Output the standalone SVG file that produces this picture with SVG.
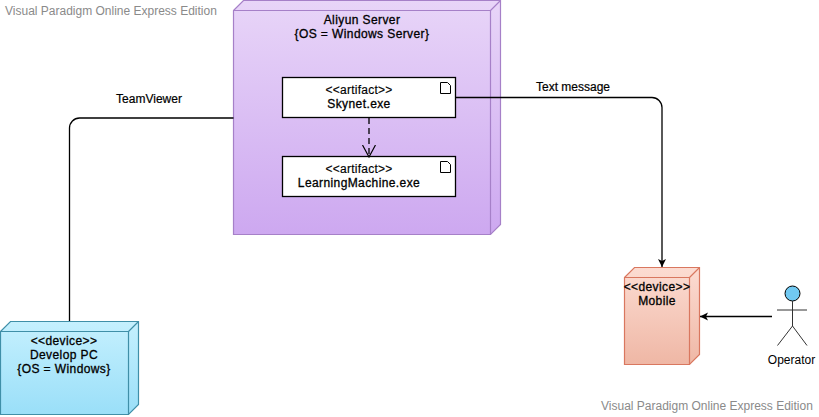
<svg xmlns="http://www.w3.org/2000/svg" width="819" height="417" viewBox="0 0 819 417">
<style>
text{font-family:"Liberation Sans",Arial,sans-serif;font-size:12px;fill:#000;text-anchor:middle}
.wm{fill:#8a8a8a;text-anchor:start;stroke:none}
.b{stroke:#000;stroke-width:.3;letter-spacing:.4px}
.a{stroke:#000;stroke-width:.15;letter-spacing:.25px}
.l{stroke:#000;stroke-width:.2}
.conn{fill:none;stroke:#000;stroke-width:1.3}
.art{fill:#fff;stroke:#000;stroke-width:1.3}
.ic{fill:#fff;stroke:#000;stroke-width:1}
.stick{fill:none;stroke:#333;stroke-width:1}
</style>
<defs>
<linearGradient id="gs" x1="0" y1="0" x2="0" y2="1"><stop offset="0" stop-color="#e8d5f8"/><stop offset="1" stop-color="#cda8f0"/></linearGradient>
<linearGradient id="gm" x1="0" y1="0" x2="0" y2="1"><stop offset="0" stop-color="#fcdcd2"/><stop offset="1" stop-color="#efb7a5"/></linearGradient>
<linearGradient id="gd" x1="0" y1="0" x2="0" y2="1"><stop offset="0" stop-color="#c5f0fe"/><stop offset="1" stop-color="#9adff8"/></linearGradient>
<marker id="fa" markerWidth="10" markerHeight="10" refX="8" refY="4" orient="auto" markerUnits="userSpaceOnUse"><path d="M0 0L8 4L0 8L2 4Z" fill="#000"/></marker>
<marker id="oa" markerWidth="14" markerHeight="16" refX="12" refY="7" orient="auto" markerUnits="userSpaceOnUse"><path d="M0 0.5L12 7L0 13.5" fill="none" stroke="#000" stroke-width="1.2"/></marker>
</defs>
<text class="wm" x="5" y="15">Visual Paradigm Online Express Edition</text>
<text class="wm" x="601" y="410">Visual Paradigm Online Express Edition</text>
<g id="server">
<path d="M233.500 10.500L243.500 0.500H500.500V224.500L490.500 234.500H233.500Z" fill="url(#gs)" stroke="#a680c8" stroke-width="1.2"/>
<path d="M233.500 10.500H490.500V234.500M490.500 10.500L500.500 0.500" fill="none" stroke="#a680c8" stroke-width="1.2"/>
<text class="b" x="362" y="24">Aliyun Server</text>
<text class="b" x="362" y="38">{OS = Windows Server}</text>
</g>
<g id="skynet">
<rect class="art" x="282.500" y="77.500" width="173" height="40"/>
<path class="ic" d="M440.500 82.500H447.500L450.500 85.500V93.500H440.500Z"/>
<text class="a" x="359" y="94">&lt;&lt;artifact&gt;&gt;</text>
<text class="b" x="359" y="108">Skynet.exe</text>
</g>
<g id="learning">
<rect class="art" x="282.500" y="156.500" width="173" height="40"/>
<path class="ic" d="M440.500 161.500H447.500L450.500 164.500V172.500H440.500Z"/>
<text class="a" x="359" y="173">&lt;&lt;artifact&gt;&gt;</text>
<text class="b" x="359" y="187">LearningMachine.exe</text>
</g>
<g id="mobile">
<path d="M624.500 277.500L634.500 267.500H699.500V354.500L689.500 364.500H624.500Z" fill="url(#gm)" stroke="#d9775f" stroke-width="1.2"/>
<path d="M624.500 277.500H689.500V364.500M689.500 277.500L699.500 267.500" fill="none" stroke="#d9775f" stroke-width="1.2"/>
<text class="b" x="657" y="291">&lt;&lt;device&gt;&gt;</text>
<text class="b" x="657" y="305">Mobile</text>
</g>
<g id="developpc">
<path d="M0.500 331.500L10.500 321.500H138.500V404.500L128.500 414.500H0.500Z" fill="url(#gd)" stroke="#3f8fa8" stroke-width="1.2"/>
<path d="M0.500 331.500H128.500V414.500M128.500 331.500L138.500 321.500" fill="none" stroke="#3f8fa8" stroke-width="1.2"/>
<text class="b" x="64" y="345">&lt;&lt;device&gt;&gt;</text>
<text class="b" x="64" y="359">Develop PC</text>
<text class="b" x="64" y="373">{OS = Windows}</text>
</g>
<g id="operator">
<circle cx="792.500" cy="293.500" r="7.500" fill="#71c9f2" stroke="#000"/>
<path class="stick" d="M792.500 301V326M777 310H807M777.500 345.500L792.500 326L807 345.500"/>
<text x="791.500" y="364">Operator</text>
</g>
<g id="connectors">
<path class="conn" d="M69.500 321V128a10 10 0 0 1 10-10H233.500"/>
<path class="conn" d="M456 97.500H652a10 10 0 0 1 10 10V267" marker-end="url(#fa)"/>
<path class="conn" d="M369 118V157" stroke-dasharray="6 4" marker-end="url(#oa)"/>
<path class="conn" d="M772 316.500H700" marker-end="url(#fa)"/>
<text class="l" x="149" y="103">TeamViewer</text>
<text class="l" x="573" y="91">Text message</text>
</g>
</svg>
